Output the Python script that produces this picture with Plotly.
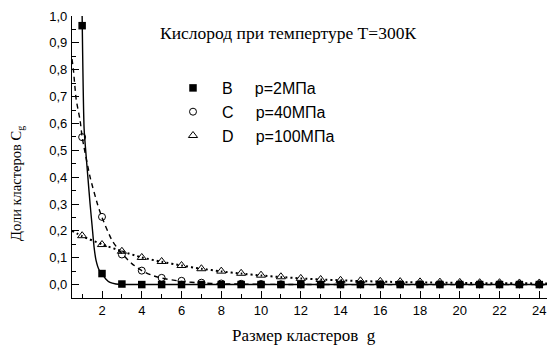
import plotly.graph_objects as go

# Cluster sizes g
g = list(range(1, 25))

# Cluster fractions (markers)
B_vals = [0.964, 0.041, 0.002, 0.0, 0.0, 0.0, 0.0, 0.0, 0.0, 0.0, 0.0, 0.0,
          0.0, 0.0, 0.0, 0.0, 0.0, 0.0, 0.0, 0.0, 0.0, 0.0, 0.0, 0.0]
C_vals = [0.549, 0.252, 0.112, 0.052, 0.025, 0.014, 0.007, 0.004, 0.003, 0.002, 0.001, 0.001,
          0.001, 0.001, 0.001, 0.001, 0.001, 0.001, 0.001, 0.001, 0.001, 0.001, 0.001, 0.001]
D_vals = [0.182, 0.149, 0.124, 0.101, 0.086, 0.071, 0.059, 0.050, 0.042, 0.035, 0.029, 0.023,
          0.019, 0.016, 0.014, 0.012, 0.011, 0.010, 0.009, 0.008, 0.007, 0.007, 0.006, 0.006]

# Fitted curves
B_curve_x = [1.0, 1.1, 1.2, 1.3, 1.4, 1.5, 1.6, 1.7, 1.85, 2.0, 2.2, 2.4, 2.7, 3.0, 25.0]
B_curve_y = [1.0, 0.58, 0.48, 0.39, 0.30, 0.22, 0.14, 0.09, 0.055, 0.04, 0.02, 0.008, 0.002, 0.0, 0.0]
C_curve_x = [0.49, 0.56, 0.7, 0.9, 1.0, 1.4, 1.77, 2.0, 2.5, 3.0, 3.5, 4.0, 4.5, 5.0, 6.0, 7.0, 8.0, 10.0, 14.0, 25.0]
C_curve_y = [0.84, 0.80, 0.69, 0.61, 0.55, 0.40, 0.30, 0.25, 0.165, 0.115, 0.078, 0.052, 0.035, 0.024, 0.012, 0.006, 0.003, 0.001, 0.0, 0.0]
D_curve_x = [0.49, 1.0, 2.0, 3.0, 4.0, 5.0, 6.0, 7.0, 8.0, 9.0, 10.0, 11.0, 12.0, 13.0, 14.0, 15.0, 16.0, 18.0, 20.0, 22.0, 25.0]
D_curve_y = [0.20, 0.18, 0.15, 0.124, 0.101, 0.085, 0.071, 0.059, 0.049, 0.041, 0.034, 0.028, 0.023, 0.019, 0.016, 0.013, 0.011, 0.008, 0.006, 0.005, 0.004]

x_ticks = list(range(2, 25, 2))
y_ticks = [0.0, 0.1, 0.2, 0.3, 0.4, 0.5, 0.6, 0.7, 0.8, 0.9, 1.0]
y_ticktext = ["0,0", "0,1", "0,2", "0,3", "0,4", "0,5", "0,6", "0,7", "0,8", "0,9", "1,0"]

sp = "&nbsp;"
legend_names = [sp * 2 + "B" + sp * 5 + "p=2МПа",
                sp * 2 + "C" + sp * 5 + "p=40МПа",
                sp * 2 + "D" + sp * 5 + "p=100МПа"]

fig = go.Figure()

fig.add_trace(go.Scatter(x=B_curve_x, y=B_curve_y, mode="lines", showlegend=False,
                         line=dict(color="black", width=1.4, shape="spline", smoothing=0.6)))
fig.add_trace(go.Scatter(x=C_curve_x, y=C_curve_y, mode="lines", showlegend=False,
                         line=dict(color="black", width=1.4, dash="5px,4px", shape="spline", smoothing=0.6)))
fig.add_trace(go.Scatter(x=D_curve_x, y=D_curve_y, mode="lines", showlegend=False,
                         line=dict(color="black", width=2, dash="2px,3px", shape="spline", smoothing=0.6)))

fig.add_trace(go.Scatter(x=g, y=B_vals, mode="markers", name=legend_names[0],
                         marker=dict(symbol="square", size=7.5, color="black")))
fig.add_trace(go.Scatter(x=g, y=C_vals, mode="markers", name=legend_names[1],
                         marker=dict(symbol="circle-open", size=7, color="black", line=dict(width=1))))
fig.add_trace(go.Scatter(x=g, y=D_vals, mode="markers", name=legend_names[2],
                         marker=dict(symbol="triangle-up-open", size=8, color="black", line=dict(width=1))))

# page body adds an 8px offset; figure laid out in page coordinates minus 8
OFF = 8
W, H = 555 - OFF, 350 - OFF
ml, mr, mt, mb = 72 - OFF, 0, 16 - OFF, 52
pw, ph = W - ml - mr, H - mt - mb


def px(xr):
    return (xr - OFF - ml) / pw


def py(yr):
    return (H - mb - (yr - OFF)) / ph


fig.update_layout(
    width=W, height=H,
    margin=dict(l=ml, r=mr, t=mt, b=mb, autoexpand=False),
    paper_bgcolor="white", plot_bgcolor="white",
    font=dict(family="Liberation Sans, Arial, sans-serif", size=13, color="black"),
    showlegend=True,
    legend=dict(x=px(173), y=py(71), xanchor="left", yanchor="top",
                bgcolor="rgba(0,0,0,0)", font=dict(size=16, family="Liberation Sans, Arial, sans-serif")),
    xaxis=dict(range=[0.49, 24.79], showgrid=False, zeroline=False, showline=True, automargin=False,
               linecolor="black", linewidth=1.3, ticks="inside", ticklen=7, tickwidth=1.2,
               tickcolor="black", tickvals=x_ticks, ticklabelstandoff=0,
               minor=dict(dtick=1, tick0=1, ticks="inside", ticklen=4, tickcolor="black", tickwidth=1)),
    yaxis=dict(range=[-0.05, 1.0], showgrid=False, zeroline=False, showline=True, automargin=False,
               linecolor="black", linewidth=1.3, ticks="inside", ticklen=7, tickwidth=1.2,
               tickcolor="black", tickvals=y_ticks, ticktext=y_ticktext, ticklabelstandoff=1,
               minor=dict(dtick=0.05, tick0=0, ticks="inside", ticklen=4, tickcolor="black", tickwidth=1)),
)

serif = "Liberation Serif, Times New Roman, serif"
fig.add_annotation(text="Кислород при темпертуре Т=300К", xref="paper", yref="paper",
                   x=px(288), y=py(33), xanchor="center", yanchor="middle",
                   showarrow=False, font=dict(family=serif, size=17.5))
fig.add_annotation(text="Размер кластеров&nbsp;&nbsp;g", xref="paper", yref="paper",
                   x=px(304), y=py(335), xanchor="center", yanchor="middle",
                   showarrow=False, font=dict(family=serif, size=17))
fig.add_annotation(text="Доли кластеров C<sub>g</sub>", xref="paper", yref="paper",
                   x=px(17), y=py(184), xanchor="center", yanchor="middle",
                   textangle=-90, showarrow=False, font=dict(family=serif, size=14.5))

fig.write_html("out.html")
